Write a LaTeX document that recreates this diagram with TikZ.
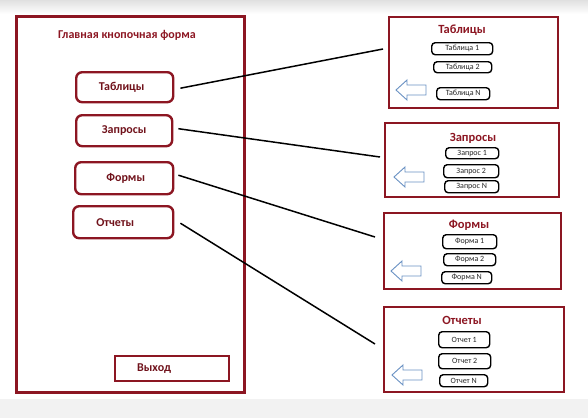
\documentclass[tikz,border=0pt]{standalone}
\usepackage{fontspec}
\setmainfont{Carlito}
\definecolor{frame}{RGB}{140,22,34}
\definecolor{arrowblue}{RGB}{105,145,195}
\begin{document}
\begin{tikzpicture}[x=1pt,y=-1pt,
  mainframe/.style={draw=frame,line width=2.6pt},
  mainbtn/.style={draw=frame,line width=2.4pt,rounded corners=6pt,anchor=north west,inner sep=0pt,
    font=\fontsize{12}{14}\selectfont\bfseries,text=frame!80!black},
  exitbtn/.style={draw=frame,line width=2.4pt,anchor=north west,inner sep=0pt,
    font=\fontsize{12}{14}\selectfont\bfseries,text=frame!80!black},
  subframe/.style={draw=frame,line width=2.4pt,anchor=north west,inner sep=0pt},
  subtitle/.style={font=\fontsize{12.5}{14}\selectfont\bfseries,text=frame},
  maintitle/.style={font=\fontsize{12}{14}\selectfont\bfseries,text=frame},
  item/.style={draw=black,line width=1.4pt,rounded corners=3.5pt,anchor=north west,inner sep=0pt,
    font=\fontsize{8}{9}\selectfont,text=black!85},
  conn/.style={draw=black,line width=1.5pt},
  backarrow/.pic={\draw[arrowblue,line width=0.9pt,fill=white,line join=miter]
    (0,0) -- (11,-10) -- (11,-5) -- (30,-5) -- (30,5) -- (11,5) -- (11,10) -- cycle;}
]
\useasboundingbox (0,0) rectangle (588,418);
\shade[top color=black!12,bottom color=white] (0,0) rectangle (588,14);
\fill[black!5] (0,399) rectangle (588,418);

% main form
\node[mainframe,anchor=north west,minimum width=228pt,minimum height=376pt,inner sep=0pt] (main) at (15,15) {};
\node[maintitle] (mt) at (127,35) {Главная кнопочная форма};
\node[mainbtn,minimum width=97pt,minimum height=30pt] (b1) at (75,71) {\hspace*{-6pt}Таблицы};
\node[mainbtn,minimum width=96pt,minimum height=31pt] (b2) at (75,114) {Запросы};
\node[mainbtn,minimum width=98pt,minimum height=32pt] (b3) at (74,161) {\hspace*{3pt}Формы};
\node[mainbtn,minimum width=100pt,minimum height=32pt] (b4) at (72,205) {\hspace*{-16pt}Отчеты};
\node[exitbtn,minimum width=114pt,minimum height=25pt] (ex) at (114,355) {\hspace*{-36pt}Выход};

% Tables box
\node[subframe,minimum width=169pt,minimum height=91pt] (f1) at (388,16) {};
\node[subtitle] (t1) at (462,30) {Таблицы};
\node[item,minimum width=61pt,minimum height=12pt] (i11) at (431,42) {Таблица 1};
\node[item,minimum width=58pt,minimum height=11pt] (i12) at (433,61) {Таблица 2};
\node[item,minimum width=53pt,minimum height=12pt] (i13) at (436,87) {Таблица N};
\pic at (396,90) {backarrow};

% Queries box
\node[subframe,minimum width=174pt,minimum height=74pt] (f2) at (384,122) {};
\node[subtitle] (t2) at (473,138) {Запросы};
\node[item,minimum width=53pt,minimum height=11pt] (i21) at (445,147) {Запрос 1};
\node[item,minimum width=55pt,minimum height=13pt] (i22) at (443,164) {Запрос 2};
\node[item,minimum width=54pt,minimum height=12pt] (i23) at (444,180) {Запрос N};
\pic at (394,177) {backarrow};

% Forms box
\node[subframe,minimum width=177pt,minimum height=76pt] (f3) at (383,212) {};
\node[subtitle] (t3) at (469,225) {Формы};
\node[item,minimum width=54pt,minimum height=14pt] (i31) at (442,234) {Форма 1};
\node[item,minimum width=52pt,minimum height=12pt] (i32) at (443,253) {Форма 2};
\node[item,minimum width=50pt,minimum height=12pt] (i33) at (441,271) {Форма N};
\pic at (391,271) {backarrow};

% Reports box
\node[subframe,minimum width=180pt,minimum height=85pt] (f4) at (383,306) {};
\node[subtitle] (t4) at (462,320) {Отчеты};
\node[item,minimum width=51pt,minimum height=16pt] (i41) at (438,331) {Отчет 1};
\node[item,minimum width=52pt,minimum height=15pt] (i42) at (438,353) {Отчет 2};
\node[item,minimum width=48pt,minimum height=12pt] (i43) at (439,374) {Отчет N};
\pic at (392,375) {backarrow};

% connector ends
\coordinate (e1) at (383,49);
\coordinate (e2) at (380,157);
\coordinate (e3) at (375,237);
\coordinate (e4) at (375,344);

\draw[conn] ([xshift=6pt,yshift=-1pt]b1.east) -- (e1);
\draw[conn] ([xshift=5pt,yshift=2pt]b2.east) -- (e2);
\draw[conn] ([xshift=4pt,yshift=3pt]b3.east) -- (e3);
\draw[conn] ([xshift=6pt,yshift=-1pt]b4.east) -- (e4);
\end{tikzpicture}
\end{document}
